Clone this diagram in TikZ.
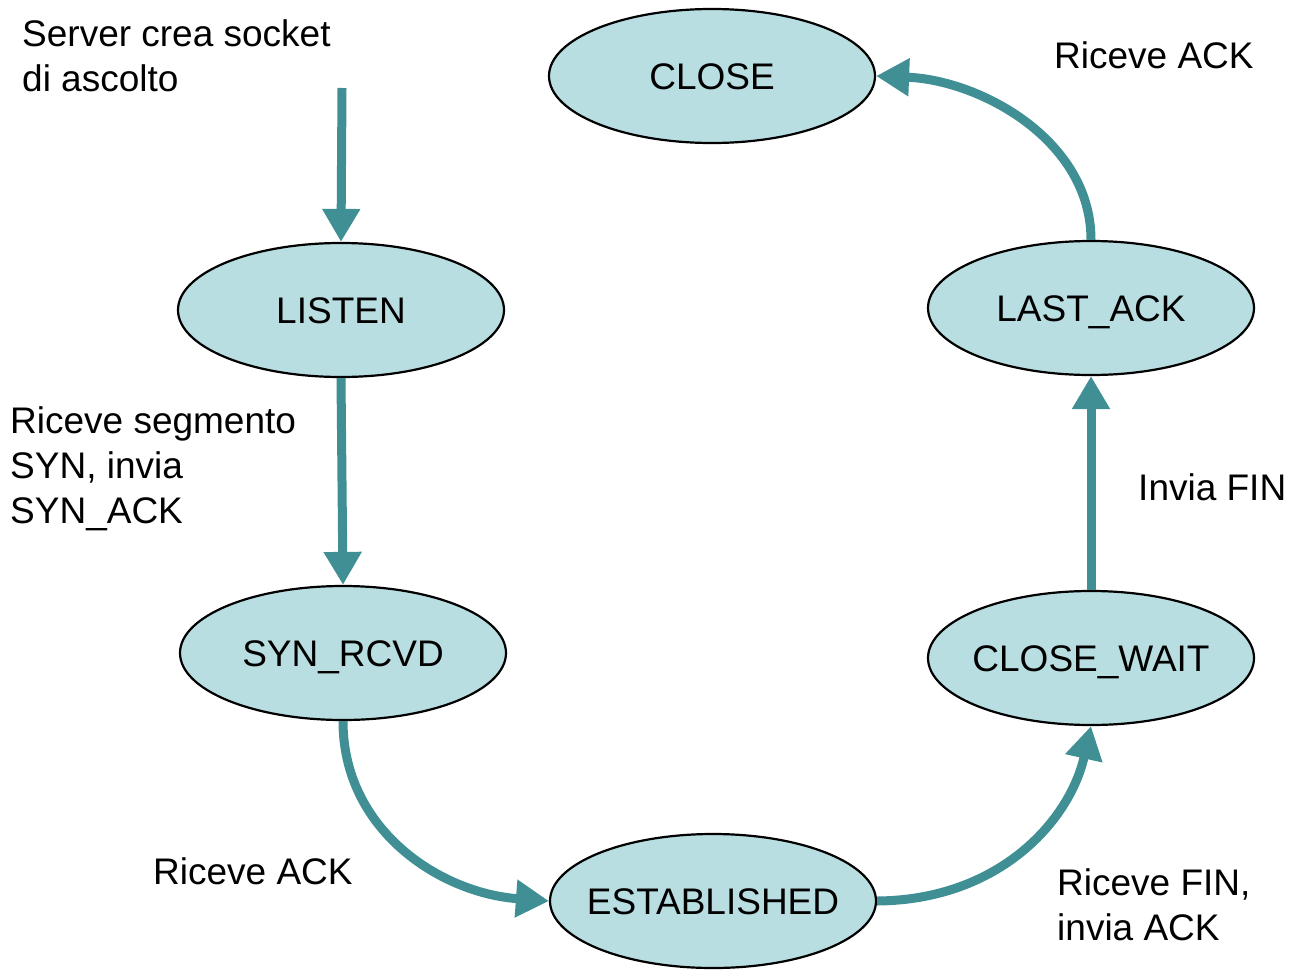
\documentclass[tikz,border=0pt]{standalone}
\usepackage{fontspec}
\setmainfont{Liberation Sans}
\usetikzlibrary{arrows.meta,shapes.geometric}
\definecolor{stfill}{HTML}{B8DEE2}
\definecolor{arrowc}{HTML}{3F8F94}
\begin{document}
\begin{tikzpicture}[x=1pt,y=-1pt,
  state/.style={ellipse,draw=black,line width=2.2pt,fill=stfill,minimum width=326pt,minimum height=134pt,inner xsep=-40pt,inner ysep=0pt,text height=26.5pt,text depth=0pt,font=\fontsize{37}{44}\selectfont},
  trans/.style={draw=arrowc,line width=9pt,-{Triangle[width=36pt,length=33pt]}},
  lbl/.style={anchor=north west,inner sep=0pt,align=left,font=\fontsize{37}{45}\selectfont}]
\useasboundingbox (0,0) rectangle (1290,969);
\node[state] (close) at (712,76) {CLOSE};
\node[state] (listen) at (341,310) {LISTEN};
\node[state] (synrcvd) at (343,653) {SYN\_RCVD};
\node[state] (est) at (713,901) {ESTABLISHED};
\node[state] (cwait) at (1091,658) {CLOSE\_WAIT};
\node[state] (lack) at (1091,308) {LAST\_ACK};
\coordinate (start) at (342,88);
\draw[trans] (start) -- (listen.north);
\draw[trans] (listen.south) -- (synrcvd.north);
\draw[trans] (synrcvd.south) .. controls (343,830) and (440,893) .. (est.west);
\draw[trans] (est.east) .. controls (1000,900) and (1070,820) .. (cwait.south);
\draw[trans] (cwait.north) -- (lack.south);
\draw[trans] (lack.north) .. controls (1091,140) and (980,80) .. (close.east);
\node[lbl] (t1) at (22,19) {Server crea socket\\di ascolto};
\node[lbl] (t2) at (10,406) {Riceve segmento\\SYN, invia\\SYN\_ACK};
\node[lbl] (t3) at (153,857) {Riceve ACK};
\node[lbl] (t4) at (1057,868) {Riceve FIN,\\invia ACK};
\node[lbl] (t5) at (1138,473) {Invia FIN};
\node[lbl] (t6) at (1054,41) {Riceve ACK};
\end{tikzpicture}
\end{document}
